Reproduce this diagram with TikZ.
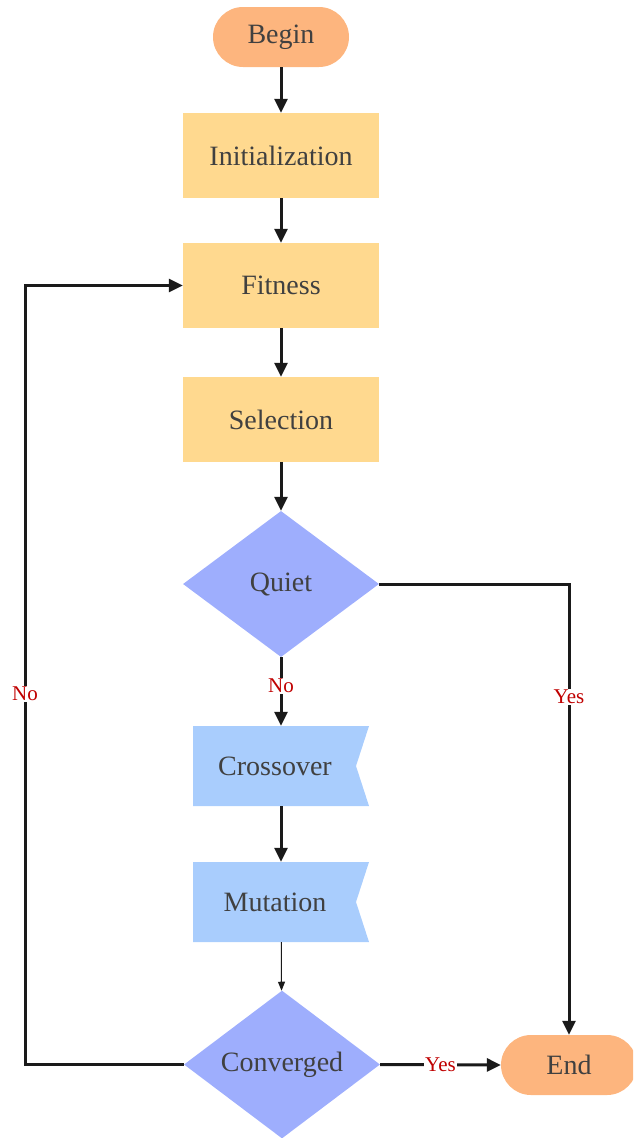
\documentclass[tikz,border=0pt]{standalone}
\usepackage{fontspec}
\setmainfont{Liberation Serif}
\usetikzlibrary{arrows.meta,shapes.geometric}
\definecolor{termfill}{HTML}{FDB57E}
\definecolor{procfill}{HTML}{FFD98F}
\definecolor{decfill}{HTML}{9EAEFD}
\definecolor{flagfill}{HTML}{A9CDFD}
\definecolor{txt}{HTML}{404040}
\definecolor{lbl}{HTML}{C00000}
\definecolor{wire}{HTML}{1A1A1A}
\tikzset{
  base/.style={inner sep=0pt, text=txt, font=\fontsize{28}{32}\selectfont},
  terminal/.style={base, rectangle, rounded corners=30pt, fill=termfill,
    minimum width=136pt, minimum height=60pt},
  process/.style={base, rectangle, fill=procfill,
    minimum width=196pt, minimum height=85pt},
  decision/.style={base, diamond, fill=decfill,
    minimum width=196pt, minimum height=146pt},
  flag/.style={base, rectangle, minimum width=176pt, minimum height=80pt,
    path picture={\fill[flagfill] (path picture bounding box.north west)
      -- (path picture bounding box.north east)
      -- ([xshift=-13pt]path picture bounding box.east)
      -- (path picture bounding box.south east)
      -- (path picture bounding box.south west) -- cycle;}},
  flow/.style={draw=wire, line width=3pt,
    -{Triangle[length=14pt,width=13pt]}},
  thinflow/.style={draw=wire, line width=1pt,
    -{Triangle[length=9pt,width=7pt]}},
  answer/.style={fill=white, text=lbl, inner sep=1pt,
    font=\fontsize{21}{24}\selectfont}
}
\begin{document}
\begin{tikzpicture}[x=1pt,y=-1pt]
\useasboundingbox (0,0) rectangle (633,1138);
\clip (0,0) rectangle (633,1138);

% nodes of the flow chart
\node[terminal] (begin) at (281,37) {Begin};
\node[process] (init) at (281,155.5) {Initialization};
\node[process] (fit) at (281,285.5) {Fitness};
\node[process] (sel) at (281,419.5) {Selection};
\node[decision] (quiet) at (281,584) {Quiet};
\node[flag] (cross) at (281,766) {Crossover\hspace*{12pt}};
\node[flag] (mut) at (281,902) {Mutation\hspace*{12pt}};
\node[decision] (conv) at (282,1064.5) {Converged};
\node[terminal] (end) at (569,1065) {End};

% bend points of the return and exit paths
\coordinate (lbend) at (25,1064.5);

% connectors
\draw[flow] (begin) -- (init);
\draw[flow] (init) -- (fit);
\draw[flow] (fit) -- (sel);
\draw[flow] (sel) -- (quiet);
\draw[flow] (quiet) -- node[answer, pos=0.42] {No} (cross);
\draw[flow] (cross) -- (mut);
\draw[thinflow] (mut) -- (conv);
\draw[flow] (quiet.east) -| node[answer, pos=0.625] {Yes} (end.north);
\draw[flow] (conv.east) -- node[answer] {Yes} (end.west);
\draw[flow] (conv.west) -- (lbend) |- node[answer, pos=0.238] {No} (fit.west);
\end{tikzpicture}
\end{document}
